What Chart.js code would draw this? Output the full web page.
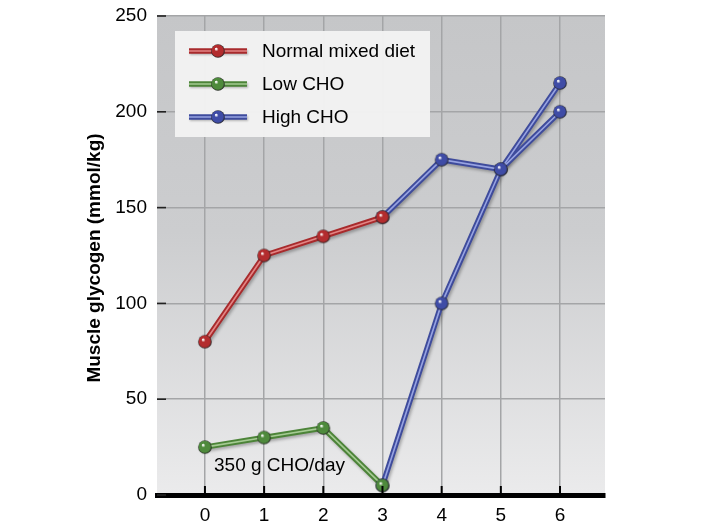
<!DOCTYPE html>
<html lang="en">

<head>
    <meta charset="UTF-8">
    <title>Muscle glycogen</title>
    <script src="https://cdn.jsdelivr.net/npm/chart.js"></script>
    <style>
        body {
            margin: 0;
            padding: 0;
            background: #ffffff;
        }

        .chart-box {
            width: 706px;
            height: 529px;
        }
    </style>
</head>

<body>
    <div class="chart-box">
        <canvas id="glycogen"></canvas>
    </div>

    <script>
        // days on the x axis
        const days = [0, 1, 2, 3, 4, 5, 6];
        const yTicks = [0, 50, 100, 150, 200, 250];

        // mmol/kg
        const normalDiet = [80, 125, 135, 145, null, null, null];
        const lowCho = [25, 30, 35, 5, null, null, null];
        const highChoA = [null, null, null, 145, 175, 170, 200];
        const highChoB = [null, null, null, 5, 100, 170, 215];

        const legendLabels = ['Normal mixed diet', 'Low CHO', 'High CHO'];
        const noteText = '350 g CHO/day';
        const yTitle = 'Muscle glycogen (mmol/kg)';

        const FONT = "'Liberation Sans', Arial, sans-serif";

        // dark edge, light centre stripe, sphere base
        const red = { edge: '#a82a2c', mid: '#e38585', ball: '#b32c2e' };
        const green = { edge: '#4c8438', mid: '#a5cb93', ball: '#4e8a3c' };
        const blue = { edge: '#3e4b9c', mid: '#97a3e2', ball: '#3f4ca6' };

        function toPoints(values) {
            return days.map((d, i) => ({ x: d, y: values[i] }));
        }

        // small shaded ball used as point style
        function makeBall(base) {
            const c = document.createElement('canvas');
            const s = 16;
            c.width = s;
            c.height = s;
            const g = c.getContext('2d');
            const r = 6.8;
            const cx = s / 2, cy = s / 2;
            const grad = g.createRadialGradient(cx - 2, cy - 2.2, 0.5, cx, cy, r);
            grad.addColorStop(0, '#ffffff');
            grad.addColorStop(0.25, base);
            grad.addColorStop(0.8, base);
            grad.addColorStop(1, '#222');
            g.beginPath();
            g.arc(cx, cy, r, 0, Math.PI * 2);
            g.fillStyle = grad;
            g.fill();
            return c;
        }

        const balls = {
            red: makeBall(red.ball),
            green: makeBall(green.ball),
            blue: makeBall(blue.ball)
        };

        function thickLine(values, col) {
            return {
                data: toPoints(values),
                borderColor: col.edge,
                borderWidth: 5.5,
                pointRadius: 0,
                order: 2,
                shade: true
            };
        }

        function thinLine(values, col, ball) {
            return {
                data: toPoints(values),
                borderColor: col.mid,
                borderWidth: 1.6,
                pointStyle: ball,
                pointRadius: 7,
                order: 1
            };
        }

        // plot background with a soft gradient
        const backgroundPlugin = {
            id: 'plotBackground',
            beforeDraw(chart) {
                const { ctx, chartArea: a } = chart;
                const grad = ctx.createLinearGradient(0, a.top, 0, a.bottom);
                grad.addColorStop(0, '#c5c6c8');
                grad.addColorStop(0.45, '#cccdcf');
                grad.addColorStop(1, '#ebebec');
                ctx.save();
                ctx.fillStyle = grad;
                ctx.fillRect(a.left, a.top, a.right - a.left, a.bottom - a.top);
                ctx.restore();
            }
        };

        // drop shadow under the thick lines only
        const shadowPlugin = {
            id: 'lineShadow',
            beforeDatasetDraw(chart, args) {
                if (!chart.data.datasets[args.index].shade) return;
                const ctx = chart.ctx;
                ctx.save();
                ctx.shadowColor = 'rgba(0, 0, 0, 0.28)';
                ctx.shadowBlur = 3;
                ctx.shadowOffsetX = 1.5;
                ctx.shadowOffsetY = 2;
            },
            afterDatasetDraw(chart, args) {
                if (!chart.data.datasets[args.index].shade) return;
                chart.ctx.restore();
            }
        };

        // tick marks, axis title, note and legend
        const decorPlugin = {
            id: 'decor',
            afterDraw(chart) {
                const { ctx, chartArea: a, scales } = chart;
                ctx.save();

                // y tick marks pointing inward
                ctx.strokeStyle = '#222';
                ctx.lineWidth = 1.6;
                yTicks.forEach(v => {
                    const y = scales.y.getPixelForValue(v);
                    ctx.beginPath();
                    ctx.moveTo(a.left, y);
                    ctx.lineTo(a.left + 9, y);
                    ctx.stroke();
                });

                // x tick marks sitting on the axis
                ctx.lineWidth = 2;
                ctx.strokeStyle = '#000';
                days.forEach(d => {
                    const x = scales.x.getPixelForValue(d);
                    ctx.beginPath();
                    ctx.moveTo(x, a.bottom);
                    ctx.lineTo(x, a.bottom - 9);
                    ctx.stroke();
                });

                // y axis title
                ctx.fillStyle = '#000';
                ctx.font = 'bold 19px ' + FONT;
                ctx.textAlign = 'center';
                ctx.textBaseline = 'middle';
                ctx.translate(95, 258);
                ctx.rotate(-Math.PI / 2);
                ctx.fillText(yTitle, 0, 0);
                ctx.setTransform(1, 0, 0, 1, 0, 0);
                ctx.restore();
                ctx.save();

                // note
                ctx.fillStyle = '#000';
                ctx.font = '19px ' + FONT;
                ctx.textAlign = 'left';
                ctx.textBaseline = 'middle';
                ctx.fillText(noteText, 214, 466);

                // legend box
                ctx.fillStyle = 'rgba(242, 243, 243, 0.96)';
                ctx.fillRect(175, 31, 255, 106);
                const cols = [red, green, blue];
                const legendBalls = [balls.red, balls.green, balls.blue];
                const rows = [51, 84, 117];
                rows.forEach((y, i) => {
                    ctx.save();
                    ctx.shadowColor = 'rgba(0, 0, 0, 0.25)';
                    ctx.shadowBlur = 2;
                    ctx.shadowOffsetX = 1;
                    ctx.shadowOffsetY = 1.5;
                    ctx.strokeStyle = cols[i].edge;
                    ctx.lineWidth = 5.5;
                    ctx.beginPath();
                    ctx.moveTo(189, y);
                    ctx.lineTo(247, y);
                    ctx.stroke();
                    ctx.restore();
                    ctx.strokeStyle = cols[i].mid;
                    ctx.lineWidth = 1.6;
                    ctx.beginPath();
                    ctx.moveTo(189, y);
                    ctx.lineTo(247, y);
                    ctx.stroke();
                    ctx.drawImage(legendBalls[i], 218 - 8, y - 8);
                    ctx.fillStyle = '#000';
                    ctx.fillText(legendLabels[i], 262, y + 1);
                });
                ctx.restore();
            }
        };

        const ctx1 = document.getElementById('glycogen').getContext('2d');
        new Chart(ctx1, {
            type: 'line',
            data: {
                datasets: [
                    thinLine(normalDiet, red, balls.red),
                    thinLine(lowCho, green, balls.green),
                    thinLine(highChoA, blue, balls.blue),
                    thinLine(highChoB, blue, balls.blue),
                    thickLine(normalDiet, red),
                    thickLine(lowCho, green),
                    thickLine(highChoA, blue),
                    thickLine(highChoB, blue)
                ]
            },
            options: {
                responsive: true,
                maintainAspectRatio: false,
                animation: false,
                layout: {
                    padding: { left: 57, top: 16, right: 101, bottom: 0 }
                },
                plugins: {
                    legend: { display: false },
                    tooltip: { enabled: false }
                },
                scales: {
                    x: {
                        type: 'linear',
                        min: -0.81,
                        max: 6.76,
                        afterFit: s => { s.height = 34; s.paddingLeft = 0; s.paddingRight = 0; },
                        afterBuildTicks: s => { s.ticks = days.map(v => ({ value: v })); },
                        grid: { color: '#a4a5a7', lineWidth: 1.5, drawTicks: false },
                        border: { display: true, color: '#000', width: 5 },
                        ticks: {
                            padding: 9,
                            color: '#000',
                            autoSkip: false,
                            font: { family: FONT, size: 19 }
                        }
                    },
                    y: {
                        min: 0,
                        max: 250,
                        afterFit: s => { s.width = 100; s.paddingTop = 0; s.paddingBottom = 0; },
                        afterBuildTicks: s => { s.ticks = yTicks.map(v => ({ value: v })); },
                        grid: { color: '#a4a5a7', lineWidth: 1.5, drawTicks: false },
                        border: { display: false },
                        ticks: {
                            padding: 10,
                            color: '#000',
                            font: { family: FONT, size: 19 }
                        }
                    }
                }
            },
            plugins: [backgroundPlugin, shadowPlugin, decorPlugin]
        });
    </script>
</body>

</html>
